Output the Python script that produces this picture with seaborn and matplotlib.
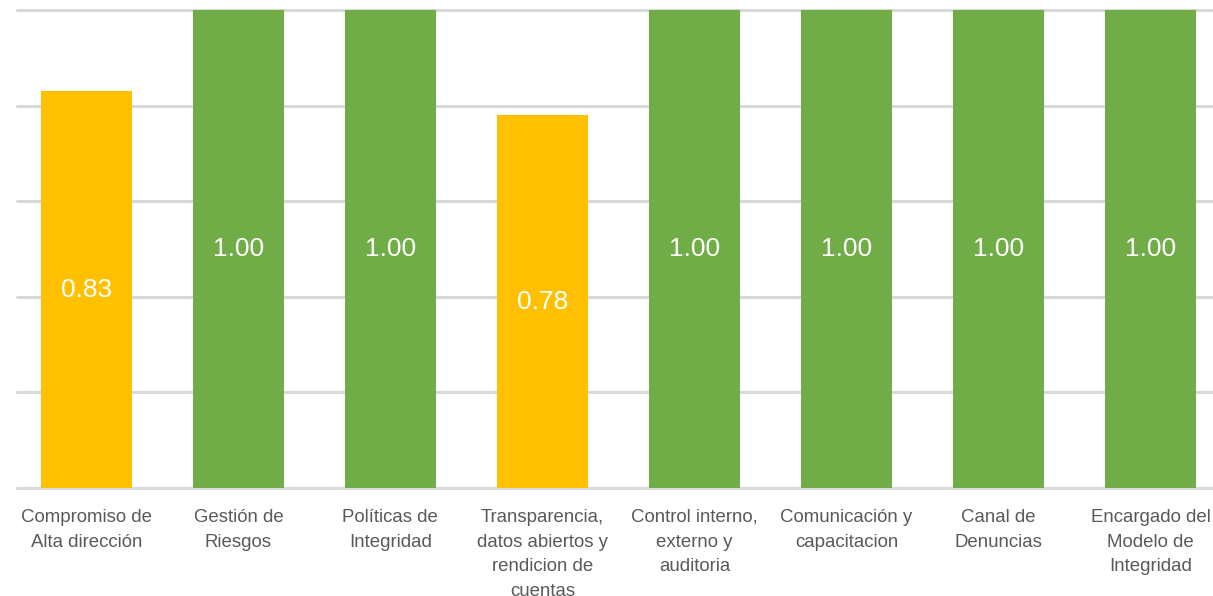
import matplotlib
matplotlib.use("Agg")
import matplotlib.pyplot as plt
import seaborn as sns

categories = [
    "Compromiso de\nAlta dirección",
    "Gestión de\nRiesgos",
    "Políticas de\nIntegridad",
    "Transparencia,\ndatos abiertos y\nrendicion de\ncuentas",
    "Control interno,\nexterno y\nauditoria",
    "Comunicación y\ncapacitacion",
    "Canal de\nDenuncias",
    "Encargado del\nModelo de\nIntegridad",
]
values = [0.83, 1.00, 1.00, 0.78, 1.00, 1.00, 1.00, 1.00]
value_labels = ["0.83", "1.00", "1.00", "0.78", "1.00", "1.00", "1.00", "1.00"]
bar_colors = ["#FFC000", "#70AD47", "#70AD47", "#FFC000", "#70AD47", "#70AD47", "#70AD47", "#70AD47"]
y_ticks = [0, 0.2, 0.4, 0.6, 0.8, 1.0]

sns.set_style("white")
plt.rcParams["font.family"] = ["Liberation Sans", "DejaVu Sans"]

fig = plt.figure(figsize=(12.13, 5.96), dpi=100)
ax = fig.add_axes([17 / 1213, 108 / 596, 1 - 17 / 1213, 478 / 596])

sns.barplot(x=list(range(len(categories))), y=values, hue=list(range(len(categories))),
            palette=bar_colors, legend=False, width=0.6, saturation=1, ax=ax,
            linewidth=0, edgecolor="none", zorder=3)

for i, (v, lab) in enumerate(zip(values, value_labels)):
    ax.text(i, v / 2, lab, ha="center", va="center", color="white", fontsize=19, zorder=4)

ax.set_ylim(0, 1.0)
ax.set_xlim(-0.456, 7.41)
ax.set_yticks(y_ticks)
ax.set_yticklabels([])
ax.yaxis.grid(True, color="#d9d9d9", linewidth=2.2, zorder=0)
ax.set_axisbelow(True)
for g in ax.get_ygridlines():
    g.set_clip_on(False)
ax.tick_params(axis="both", length=0)
ax.set_xticks(range(len(categories)))
ax.set_xticklabels(categories, color="#595959", fontsize=13.4, linespacing=1.6)
ax.tick_params(axis="x", pad=15)
for s in ax.spines.values():
    s.set_visible(False)

fig.savefig("out.png", dpi=100)
